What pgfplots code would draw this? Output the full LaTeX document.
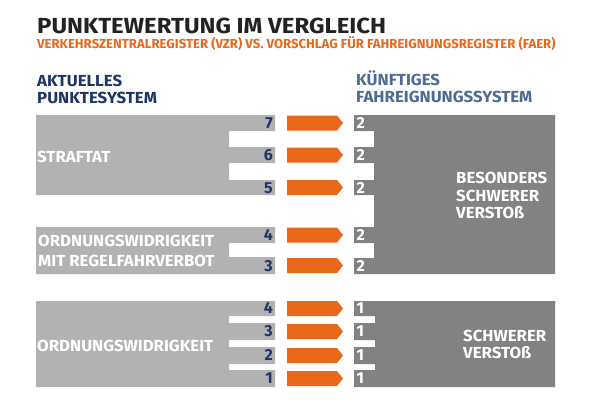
\documentclass[border=0pt]{standalone}
\usepackage{pgfplots}
\pgfplotsset{compat=1.18}
\usepackage{fontspec}
\usepackage{graphicx}
\setmainfont{Fira Sans}
\definecolor{lgray}{HTML}{B2B2B4}
\definecolor{dgray}{HTML}{828285}
\definecolor{orng}{HTML}{E8691C}
\definecolor{navy}{HTML}{1C3668}
\definecolor{slate}{HTML}{4E6B94}
\definecolor{ttl}{HTML}{222222}
\newcommand{\bodyfont}{\fontsize{16}{16}\selectfont\bfseries}
\newcommand{\sx}[1]{\scalebox{1.05}[1]{#1}}
\begin{document}
\begin{tikzpicture}
\begin{axis}[
  scale only axis, width=600pt, height=400pt,
  xmin=0, xmax=600, ymin=0, ymax=400, y dir=reverse,
  hide axis, clip=false,
  /pgf/number format/assume math mode=true,
]
% background
\addplot[fill=white, draw=none] coordinates {(0,0)(600,0)(600,400)(0,400)} -- cycle;
% left blocks
\addplot[fill=lgray, draw=none] coordinates {(36,115)(275,115)(275,131)(229,131)(229,147)(275,147)(275,163)(229,163)(229,180)(275,180)(275,195)(36,195)} -- cycle;
\addplot[fill=lgray, draw=none] coordinates {(36,227)(275,227)(275,243)(229,243)(229,257)(275,257)(275,274)(36,274)} -- cycle;
\addplot[fill=lgray, draw=none] coordinates {(36,301)(275,301)(275,316)(229,316)(229,323)(275,323)(275,340)(229,340)(229,347)(275,347)(275,364)(229,364)(229,370)(275,370)(275,387)(36,387)} -- cycle;
% right blocks
\addplot[fill=dgray, draw=none] coordinates {(354,115)(555,115)(555,274)(354,274)(354,258)(374,258)(374,243)(354,243)(354,227)(374,227)(374,195)(354,195)(354,180)(374,180)(374,163)(354,163)(354,147)(374,147)(374,131)(354,131)} -- cycle;
\addplot[fill=dgray, draw=none] coordinates {(354,301)(555,301)(555,387)(354,387)(354,370)(375,370)(375,364)(354,364)(354,347)(375,347)(375,340)(354,340)(354,323)(375,323)(375,316)(354,316)} -- cycle;
% arrows
\addplot[fill=orng, draw=none] coordinates {(287,115.5)(337,115.5)(343,123)(337,130.5)(287,130.5)} -- cycle;
\addplot[fill=orng, draw=none] coordinates {(287,147.5)(337,147.5)(343,155)(337,162.5)(287,162.5)} -- cycle;
\addplot[fill=orng, draw=none] coordinates {(287,180)(337,180)(343,187.5)(337,195)(287,195)} -- cycle;
\addplot[fill=orng, draw=none] coordinates {(287,227.5)(337,227.5)(343,235)(337,242.5)(287,242.5)} -- cycle;
\addplot[fill=orng, draw=none] coordinates {(287,258)(337,258)(343,265.5)(337,273)(287,273)} -- cycle;
\addplot[fill=orng, draw=none] coordinates {(287,301)(337,301)(343,308.5)(337,316)(287,316)} -- cycle;
\addplot[fill=orng, draw=none] coordinates {(287,324)(337,324)(343,331.5)(337,339)(287,339)} -- cycle;
\addplot[fill=orng, draw=none] coordinates {(287,348)(337,348)(343,355.5)(337,363)(287,363)} -- cycle;
\addplot[fill=orng, draw=none] coordinates {(287,371)(337,371)(343,378.5)(337,386)(287,386)} -- cycle;
% left numbers (baseline positions)
\addplot[draw=none, mark=none, nodes near coords, point meta=explicit,
  nodes near coords align={anchor=base east},
  every node near coord/.append style={inner sep=0pt, font=\bodyfont, text=navy}]
  table[x=x, y=y, meta=v] {
x y v
273 128.5 7
273 160.5 6
273 193 5
273 240.5 4
273 271 3
273 313.5 4
273 336.5 3
273 360.5 2
273 383.5 1
};
% right numbers
\addplot[draw=none, mark=none, nodes near coords, point meta=explicit,
  nodes near coords align={anchor=base west},
  every node near coord/.append style={inner sep=0pt, font=\bodyfont, text=white}]
  table[x=x, y=y, meta=v] {
x y v
356.5 128.5 2
356.5 160.5 2
356.5 193 2
356.5 240.5 2
356.5 271 2
356.5 313.5 1
356.5 336.5 1
356.5 360.5 1
356.5 383.5 1
};
% texts
\node[anchor=base west, inner sep=0pt, text=ttl, font=\fontsize{21.8}{21.8}\selectfont\bfseries] at (axis cs:37,33) {\scalebox{1.1}[1]{PUNKTEWERTUNG IM VERGLEICH}};
\node[anchor=base west, inner sep=0pt, text=orng, font=\fontsize{13}{13}\selectfont\bfseries] at (axis cs:37,48) {\scalebox{1.012}[1]{VERKEHRSZENTRALREGISTER (VZR) VS. VORSCHLAG FÜR FAHREIGNUNGSREGISTER (FAER)}};
\node[anchor=base west, inner sep=0pt, text=navy, font=\bodyfont] at (axis cs:37,86) {\sx{AKTUELLES}};
\node[anchor=base west, inner sep=0pt, text=navy, font=\bodyfont] at (axis cs:37,103) {\sx{PUNKTESYSTEM}};
\node[anchor=base west, inner sep=0pt, text=slate, font=\bodyfont] at (axis cs:356,85.5) {\sx{KÜNFTIGES}};
\node[anchor=base west, inner sep=0pt, text=slate, font=\bodyfont] at (axis cs:356,102) {\sx{FAHREIGNUNGSSYSTEM}};
\node[anchor=base west, inner sep=0pt, text=white, font=\bodyfont] at (axis cs:37,162) {\sx{STRAFTAT}};
\node[anchor=base west, inner sep=0pt, text=white, font=\bodyfont] at (axis cs:38,246) {\sx{ORDNUNGSWIDRIGKEIT}};
\node[anchor=base west, inner sep=0pt, text=white, font=\bodyfont] at (axis cs:38,266) {\sx{MIT REGELFAHRVERBOT}};
\node[anchor=base west, inner sep=0pt, text=white, font=\bodyfont] at (axis cs:37,351) {\sx{ORDNUNGSWIDRIGKEIT}};
\node[anchor=base west, inner sep=0pt, text=white, font=\bodyfont] at (axis cs:456,183) {\sx{BESONDERS}};
\node[anchor=base west, inner sep=0pt, text=white, font=\bodyfont] at (axis cs:456,201) {\sx{SCHWERER}};
\node[anchor=base west, inner sep=0pt, text=white, font=\bodyfont] at (axis cs:456,218) {\sx{VERSTOß}};
\node[anchor=base west, inner sep=0pt, text=white, font=\bodyfont] at (axis cs:463,341) {\sx{SCHWERER}};
\node[anchor=base west, inner sep=0pt, text=white, font=\bodyfont] at (axis cs:463,358) {\sx{VERSTOß}};
\end{axis}
\end{tikzpicture}
\end{document}
